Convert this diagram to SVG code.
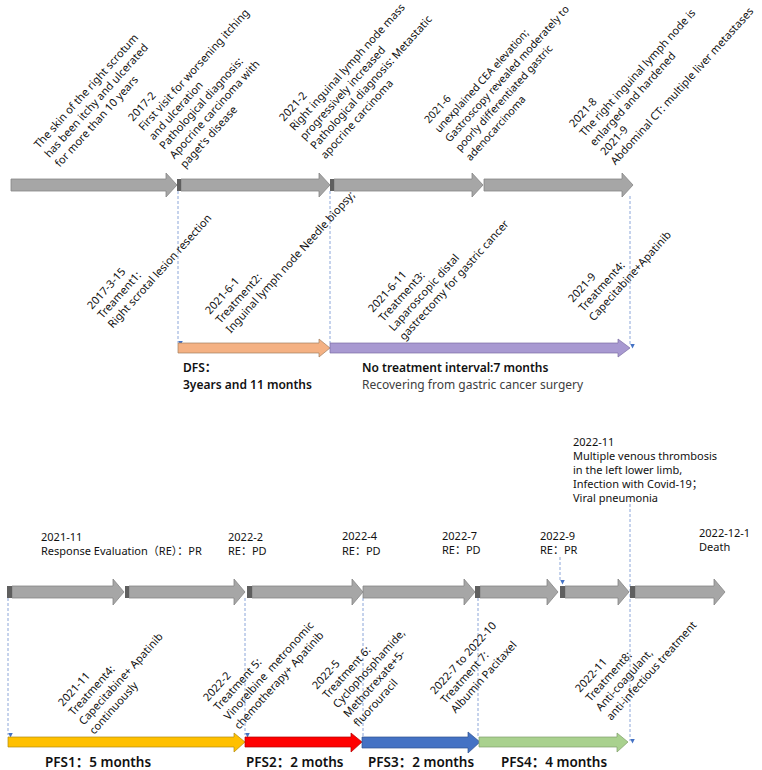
<svg xmlns="http://www.w3.org/2000/svg" width="762" height="770" viewBox="0 0 762 770">
<defs>
<style>
.g{fill:#a6a6a6;stroke:#858585;stroke-width:0.8}
.cap{fill:#5f5f5f}
.d{stroke:#6f8fcf;stroke-width:0.8;stroke-dasharray:3 2;fill:none}
.rt{font-family:"Noto Sans","Noto Sans CJK SC",sans-serif;font-size:11px;fill:#111;white-space:pre}
.ht{font-family:"Noto Sans","Noto Sans CJK SC",sans-serif;font-size:11px;fill:#111}
.bt{font-family:"Noto Sans","Noto Sans CJK SC",sans-serif;font-size:12px;font-weight:600;fill:#111}
.pt{font-family:"Noto Sans","Noto Sans CJK SC",sans-serif;font-size:13.5px;font-weight:600;fill:#111}
</style>
<marker id="tri" viewBox="0 0 6 6" refX="3" refY="6" markerWidth="5" markerHeight="5" orient="auto-start-reverse" markerUnits="userSpaceOnUse">
<path d="M0,0 L6,0 L3,6 Z" fill="#4472c4" transform="rotate(-90 3 3)"/>
</marker>
</defs>

<g id="connectors">
<line class="d" x1="178" y1="191" x2="178" y2="343" marker-end="url(#tri)"/>
<line class="d" x1="330" y1="191" x2="330" y2="343"/>
<line class="d" x1="630" y1="196" x2="630" y2="346" marker-end="url(#tri)"/>
<line class="d" x1="8" y1="598" x2="8" y2="735" marker-end="url(#tri)"/>
<line class="d" x1="245" y1="598" x2="245" y2="735" marker-end="url(#tri)"/>
<line class="d" x1="363" y1="598" x2="363" y2="738"/>
<line class="d" x1="478" y1="598" x2="478" y2="738"/>
<line class="d" x1="630" y1="504" x2="630" y2="741" marker-end="url(#tri)"/>
<line class="d" x1="560" y1="557" x2="560" y2="582" marker-end="url(#tri)"/>
</g>

<g id="top-arrows">
<path class="g" d="M11,179 H166 V173 L177,185 L166,197 V191 H11 Z"/>
<path class="g" d="M181,179 H319 V173 L330,185 L319,197 V191 H181 Z"/>
<rect class="cap" x="177" y="179" width="4" height="12"/>
<path class="g" d="M334,179 H472 V173 L483,185 L472,197 V191 H334 Z"/>
<rect class="cap" x="330" y="179" width="4" height="12"/>
<path class="g" d="M484,179 H622 V173 L633,185 L622,197 V191 H484 Z"/>
</g>

<g id="mid-arrows">
<path d="M178,343 H319 V339 L330,348 L319,357 V353 H178 Z" fill="#f4b183" stroke="#a08060" stroke-width="0.7"/>
<path d="M330,343 H618 V339 L630,348 L618,357 V353 H330 Z" fill="#a899d1" stroke="#7d6fa3" stroke-width="0.7"/>
</g>

<g id="bottom-arrows">
<path class="g" d="M12,586 H113 V579 L124,592 L113,605 V598 H12 Z"/>
<rect class="cap" x="7" y="586" width="5" height="12"/>
<path class="g" d="M129,586 H234 V579 L245,592 L234,605 V598 H129 Z"/>
<rect class="cap" x="125" y="586" width="4" height="12"/>
<path class="g" d="M252,586 H352 V579 L363,592 L352,605 V598 H252 Z"/>
<rect class="cap" x="247" y="586" width="5" height="12"/>
<path class="g" d="M363,586 H464 V579 L475,592 L464,605 V598 H363 Z"/>
<path class="g" d="M480,586 H547 V579 L558,592 L547,605 V598 H480 Z"/>
<rect class="cap" x="475" y="586" width="5" height="12"/>
<path class="g" d="M565,586 H618 V579 L629,592 L618,605 V598 H565 Z"/>
<rect class="cap" x="560" y="586" width="5" height="12"/>
<path class="g" d="M635,586 H714 V579 L725,592 L714,605 V598 H635 Z"/>
<rect class="cap" x="630" y="586" width="5" height="12"/>
</g>

<g id="pfs-arrows">
<path d="M8,737 H234 V733 L245,742 L234,752 V747 H8 Z" fill="#ffc000" stroke="#b08a10" stroke-width="0.7"/>
<path d="M245,737 H351 V733 L362,742 L351,752 V747 H245 Z" fill="#ff0000" stroke="#b00000" stroke-width="0.7"/>
<path d="M362,737 H468 V732 L480,742 L468,753 V748 H362 Z" fill="#4472c4" stroke="#2f528f" stroke-width="0.7"/>
<path d="M479,737 H617 V733 L628,742 L617,752 V747 H479 Z" fill="#a9d18e" stroke="#7f9f6a" stroke-width="0.7"/>
</g>

<g id="event-skin">
<text class="rt" transform="translate(39,149) rotate(-48)"><tspan x="0" y="0">The skin of the right scrotum</tspan><tspan x="0" dy="14">has been itchy and ulcerated</tspan><tspan x="0" dy="14">for more than 10 years</tspan></text>
</g>
<g id="event-2017-2">
<text class="rt" transform="translate(133,122) rotate(-48)"><tspan x="0" y="0">2017-2</tspan><tspan x="0" dy="14">First visit for worsening itching</tspan><tspan x="0" dy="14">and ulceration</tspan><tspan x="0" dy="14">Pathological diagnosis:</tspan><tspan x="0" dy="14">Apocrine carcinoma with</tspan><tspan x="0" dy="14">paget's disease</tspan></text>
</g>
<g id="event-2021-2">
<text class="rt" transform="translate(284,122) rotate(-48)"><tspan x="0" y="0">2021-2</tspan><tspan x="0" dy="14">Right inguinal lymph node mass</tspan><tspan x="0" dy="14">progressively increased</tspan><tspan x="0" dy="14">Pathological diagnosis: Metastatic</tspan><tspan x="0" dy="14">apocrine carcinoma</tspan></text>
</g>
<g id="event-2021-6">
<text class="rt" style="font-size:10.6px" transform="translate(429,124) rotate(-48)"><tspan x="0" y="0">2021-6</tspan><tspan x="0" dy="14">unexplained CEA elevation;</tspan><tspan x="0" dy="14">Gastroscopy revealed moderately to</tspan><tspan x="0" dy="14">poorly differentiated gastric</tspan><tspan x="0" dy="14">adenocarcinoma</tspan></text>
</g>
<g id="event-2021-8">
<text class="rt" transform="translate(574,128) rotate(-48)"><tspan x="0" y="0">2021-8</tspan><tspan x="0" dy="14">The right inguinal lymph node is</tspan><tspan x="0" dy="14">enlarged and hardened</tspan><tspan x="0" dy="14">2021-9</tspan><tspan x="0" dy="14">Abdominal CT: multiple liver metastases</tspan></text>
</g>

<g id="treatment1">
<text class="rt" transform="translate(92,310) rotate(-48)"><tspan x="0" y="0">2017-3-15</tspan><tspan x="0" dy="14">Treament1:</tspan><tspan x="0" dy="14">Right scrotal lesion resection</tspan></text>
</g>
<g id="treatment2">
<text class="rt" transform="translate(210,315) rotate(-48)"><tspan x="0" y="0">2021-6-1</tspan><tspan x="0" dy="14">Treatment2:</tspan><tspan x="0" dy="14">Inguinal lymph node Needle biopsy;</tspan></text>
</g>
<g id="treatment3">
<text class="rt" transform="translate(373,313) rotate(-48)"><tspan x="0" y="0">2021-6-11</tspan><tspan x="0" dy="14">Treatment3:</tspan><tspan x="0" dy="14">Laparoscopic distal</tspan><tspan x="0" dy="14">gastrectomy for gastric cancer</tspan></text>
</g>
<g id="treatment4">
<text class="rt" transform="translate(573,303) rotate(-48)"><tspan x="0" y="0">2021-9</tspan><tspan x="0" dy="14">Treatment4:</tspan><tspan x="0" dy="14">Capecitabine+Apatinib</tspan></text>
</g>

<g id="dfs-label">
<text class="bt" x="183" y="372">DFS：</text>
<text class="bt" x="183" y="389">3years and 11 months</text>
</g>
<g id="interval-label">
<text class="bt" x="362" y="372">No treatment interval:7 months</text>
<text class="ht" x="362" y="389" style="font-size:12px;fill:#404040">Recovering from gastric cancer surgery</text>
</g>

<g id="re-2021-11"><text class="ht" x="41" y="541">2021-11</text><text class="ht" x="41" y="555">Response Evaluation（RE）：PR</text></g>
<g id="re-2022-2"><text class="ht" x="228" y="541">2022-2</text><text class="ht" x="228" y="555">RE：PD</text></g>
<g id="re-2022-4"><text class="ht" x="342" y="540">2022-4</text><text class="ht" x="342" y="555">RE：PD</text></g>
<g id="re-2022-7"><text class="ht" x="442" y="540">2022-7</text><text class="ht" x="442" y="554">RE：PD</text></g>
<g id="re-2022-9"><text class="ht" x="540" y="540">2022-9</text><text class="ht" x="540" y="554">RE：PR</text></g>
<g id="event-2022-12-1"><text class="ht" x="699" y="537">2022-12-1</text><text class="ht" x="699" y="551">Death</text></g>
<g id="event-2022-11">
<text class="ht" x="573" y="446">2022-11</text>
<text class="ht" x="573" y="460">Multiple venous thrombosis</text>
<text class="ht" x="573" y="474">in the left lower limb,</text>
<text class="ht" x="573" y="488">Infection with Covid-19；</text>
<text class="ht" x="573" y="502">Viral pneumonia</text>
</g>

<g id="treatment4b">
<text class="rt" transform="translate(63,707) rotate(-48)"><tspan x="0" y="0">2021-11</tspan><tspan x="0" dy="14">Treatment4:</tspan><tspan x="0" dy="14">Capecitabine+ Apatinib</tspan><tspan x="0" dy="14">continuously</tspan></text>
</g>
<g id="treatment5">
<text class="rt" transform="translate(208,702) rotate(-48)"><tspan x="0" y="0">2022-2</tspan><tspan x="0" dy="14">Treatment 5:</tspan><tspan x="0" dy="14">Vinorelbine  metronomic</tspan><tspan x="0" dy="14">chemotherapy+ Apatinib</tspan></text>
</g>
<g id="treatment6">
<text class="rt" transform="translate(317,690) rotate(-48)"><tspan x="0" y="0">2022-5</tspan><tspan x="0" dy="14">Treatment 6:</tspan><tspan x="0" dy="14">Cyclophosphamide,</tspan><tspan x="0" dy="14">Methotrexate+5-</tspan><tspan x="0" dy="14">fluorouracil</tspan></text>
</g>
<g id="treatment7">
<text class="rt" transform="translate(435,695) rotate(-48)"><tspan x="0" y="0">2022-7 to 2022-10</tspan><tspan x="0" dy="14">Treatment 7:</tspan><tspan x="0" dy="14">Albumin Pacitaxel</tspan></text>
</g>
<g id="treatment8">
<text class="rt" transform="translate(580,693) rotate(-48)"><tspan x="0" y="0">2022-11</tspan><tspan x="0" dy="14">Treatment8:</tspan><tspan x="0" dy="14">Anti-coagulant,</tspan><tspan x="0" dy="14">anti-infectious treatment</tspan></text>
</g>

<g id="pfs-labels">
<text class="pt" x="45" y="767">PFS1：5 months</text>
<text class="pt" x="246" y="767">PFS2：2 moths</text>
<text class="pt" x="368" y="767">PFS3：2 months</text>
<text class="pt" x="501" y="767">PFS4：4 months</text>
</g>
</svg>
